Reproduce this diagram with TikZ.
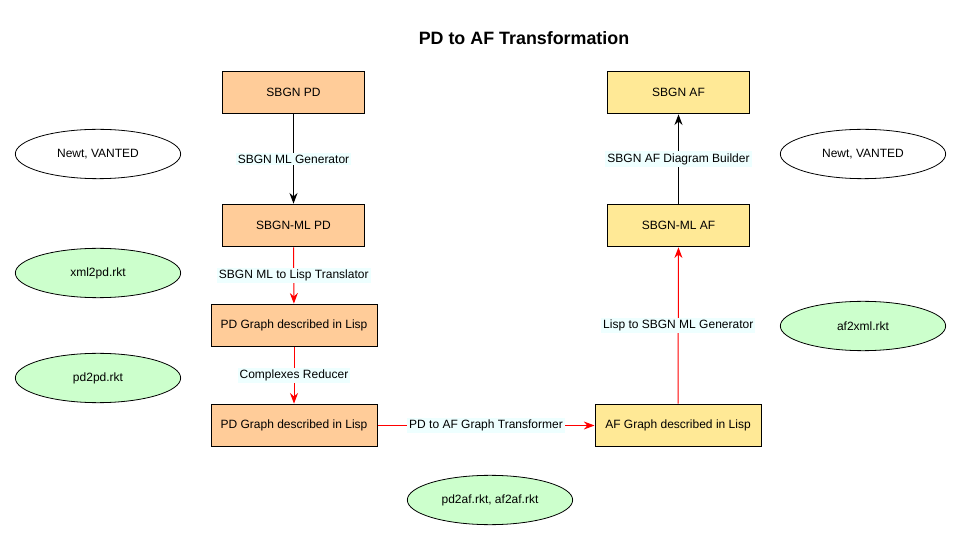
\documentclass[tikz,border=0pt]{standalone}
\usepackage{fontspec}
\setmainfont{Liberation Sans}
\usetikzlibrary{arrows.meta,shapes.geometric,positioning}
\definecolor{PDPeach}{RGB}{255,204,153}
\definecolor{AFYellow}{RGB}{255,233,150}
\definecolor{RktGreen}{RGB}{204,255,204}
\definecolor{LabelCyan}{RGB}{238,255,255}

\begin{document}
\begin{tikzpicture}[x=0.75pt,y=-0.75pt,>={Stealth[length=8pt,width=6pt]},
    font=\fontsize{9}{11}\selectfont,
    box/.style={draw,line width=0.75pt,minimum height=32pt,inner sep=0pt},
    pdbox/.style={box,fill=PDPeach},
    afbox/.style={box,fill=AFYellow},
    tool/.style={draw,ellipse,line width=0.6pt,minimum width=124pt,minimum height=37pt,inner sep=0pt},
    rkt/.style={tool,fill=RktGreen},
    step label/.style={fill=LabelCyan,text=black,inner sep=1.5pt},
    flow/.style={->,red,line width=0.75pt},
    plain/.style={->,black,line width=0.75pt}]
  \useasboundingbox (0,0) rectangle (961,545);
  \node[font=\fontsize{13.4}{15}\selectfont\bfseries] (title) at (524,38) {PD to AF Transformation};

  % PD side
  \node[pdbox,minimum width=107pt] (sbgnpd) at (293.5,92.5) {SBGN PD};
  \node[pdbox,minimum width=107pt] (mlpd) at (293.5,225.5) {SBGN-ML PD};
  \node[pdbox,minimum width=124.5pt] (lisppd) at (294,325.5) {PD Graph described in Lisp};
  \node[pdbox,minimum width=124.5pt] (redpd) at (294,425.5) {PD Graph described in Lisp};

  % AF side
  \node[afbox,minimum width=124.5pt] (lispaf) at (678,425.5) {AF Graph described in Lisp};
  \node[afbox,minimum width=107pt] (mlaf) at (678.5,225.5) {SBGN-ML AF};
  \node[afbox,minimum width=107pt] (sbgnaf) at (678.5,92.5) {SBGN AF};

  % tools
  \node[tool] (newtpd) at (98,154) {Newt, VANTED};
  \node[tool] (newtaf) at (863,154) {Newt, VANTED};
  \node[rkt] (xmlpd) at (98,273) {xml2pd.rkt};
  \node[rkt] (pdpd) at (98,378) {pd2pd.rkt};
  \node[rkt] (afxml) at (863,326) {af2xml.rkt};
  \node[rkt] (pdaf) at (490,500) {pd2af.rkt, af2af.rkt};

  % steps
  \draw[plain] (sbgnpd) -- node[step label]{SBGN ML Generator} (mlpd);
  \draw[flow] (mlpd) -- node[step label]{SBGN ML to Lisp Translator} (lisppd);
  \draw[flow] (lisppd) -- node[step label]{Complexes Reducer} (redpd);
  \draw[flow] (redpd) -- node[step label]{PD to AF Graph Transformer} (lispaf);
  \draw[flow] (lispaf) -- node[step label]{Lisp to SBGN ML Generator} (mlaf);
  \draw[plain] (mlaf) -- node[step label]{SBGN AF Diagram Builder} (sbgnaf);
\end{tikzpicture}
\end{document}
